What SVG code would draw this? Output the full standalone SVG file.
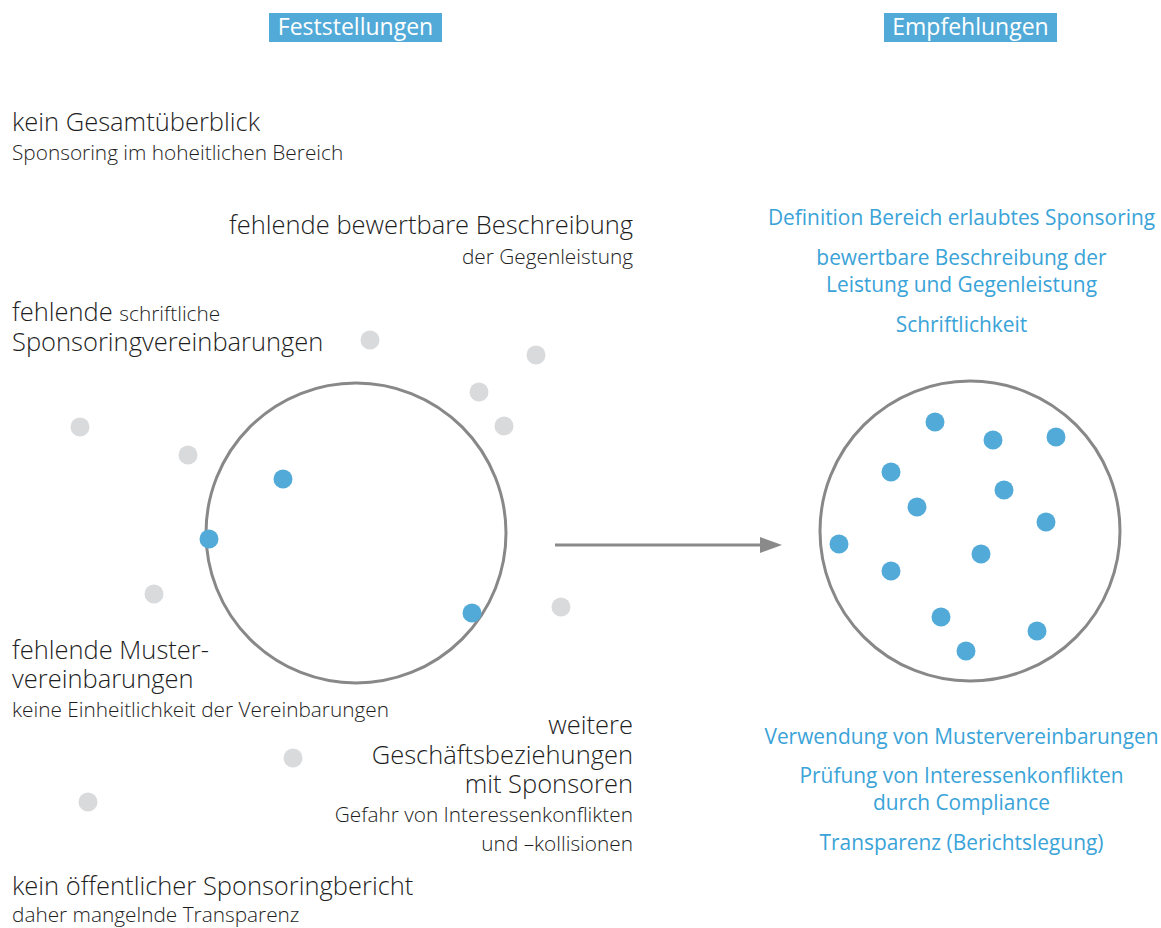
<svg xmlns="http://www.w3.org/2000/svg" width="1161" height="928" viewBox="0 0 1161 928">
  <style>
    text { font-family: "Open Sans", "Liberation Sans", sans-serif; }
    .hdr { fill: #ffffff; font-size: 23px; text-anchor: middle; }
    .big { fill: #1e1e1e; font-size: 25.5px; font-weight: 300; }
    .sub { fill: #1e1e1e; font-size: 20.8px; font-weight: 300; }
    .r { text-anchor: end; }
    .rec { fill: #3aa3d8; font-size: 20.9px; text-anchor: middle; }
    .ring { fill: none; stroke: #888888; stroke-width: 3; }
    .grey { fill: #d9dadc; }
    .blue { fill: #52aad8; }
    .conn { stroke: #8a8a8a; stroke-width: 3; fill: none; }
  </style>
  <rect width="1161" height="928" fill="#ffffff"/>

  <!-- column headers -->
  <g id="hdr-feststellungen">
    <rect x="269" y="13" width="173" height="29" fill="#52aad8"/>
    <text class="hdr" x="355.5" y="35">Feststellungen</text>
  </g>
  <g id="hdr-empfehlungen">
    <rect x="884" y="13" width="173" height="29" fill="#52aad8"/>
    <text class="hdr" x="970.5" y="35">Empfehlungen</text>
  </g>

  <!-- findings -->
  <g id="f-gesamtueberblick">
    <text class="big" x="12" y="131">kein Gesamtüberblick</text>
    <text class="sub" x="12" y="160">Sponsoring im hoheitlichen Bereich</text>
  </g>
  <g id="f-beschreibung">
    <text class="big r" x="633" y="234">fehlende bewertbare Beschreibung</text>
    <text class="sub r" x="633" y="264">der Gegenleistung</text>
  </g>
  <g id="f-schriftlich">
    <text class="big" x="12" y="321">fehlende <tspan class="sub">schriftliche</tspan></text>
    <text class="big" x="12" y="351">Sponsoringvereinbarungen</text>
  </g>
  <g id="f-muster">
    <text class="big" x="12" y="659">fehlende Muster-</text>
    <text class="big" x="12" y="688">vereinbarungen</text>
    <text class="sub" x="12" y="717">keine Einheitlichkeit der Vereinbarungen</text>
  </g>
  <g id="f-geschaeft">
    <text class="big r" x="633" y="734">weitere</text>
    <text class="big r" x="633" y="764">Geschäftsbeziehungen</text>
    <text class="big r" x="633" y="793">mit Sponsoren</text>
    <text class="sub r" x="633" y="822">Gefahr von Interessenkonflikten</text>
    <text class="sub r" x="633" y="851">und –kollisionen</text>
  </g>
  <g id="f-bericht">
    <text class="big" x="12" y="895">kein öffentlicher Sponsoringbericht</text>
    <text class="sub" x="12" y="922">daher mangelnde Transparenz</text>
  </g>

  <!-- recommendations -->
  <g id="e-oben">
    <text class="rec" x="961.5" y="225">Definition Bereich erlaubtes Sponsoring</text>
    <text class="rec" x="961.5" y="265">bewertbare Beschreibung der</text>
    <text class="rec" x="961.5" y="292">Leistung und Gegenleistung</text>
    <text class="rec" x="961.5" y="332">Schriftlichkeit</text>
  </g>
  <g id="e-unten">
    <text class="rec" x="961.5" y="744">Verwendung von Mustervereinbarungen</text>
    <text class="rec" x="961.5" y="783">Prüfung von Interessenkonflikten</text>
    <text class="rec" x="961.5" y="810">durch Compliance</text>
    <text class="rec" x="961.5" y="850">Transparenz (Berichtslegung)</text>
  </g>

  <!-- scattered points outside the current circle -->
  <g id="streupunkte">
    <circle class="grey" cx="370" cy="340" r="9.5"/>
    <circle class="grey" cx="536" cy="355" r="9.5"/>
    <circle class="grey" cx="479" cy="392" r="9.5"/>
    <circle class="grey" cx="504" cy="426" r="9.5"/>
    <circle class="grey" cx="80" cy="427" r="9.5"/>
    <circle class="grey" cx="188" cy="455" r="9.5"/>
    <circle class="grey" cx="154" cy="594" r="9.5"/>
    <circle class="grey" cx="561" cy="607" r="9.5"/>
    <circle class="grey" cx="293" cy="758" r="9.5"/>
    <circle class="grey" cx="88" cy="802" r="9.5"/>
  </g>

  <!-- current state -->
  <g id="kreis-ist">
    <circle class="ring" cx="356" cy="533" r="150"/>
    <circle class="blue" cx="283" cy="479" r="9.5"/>
    <circle class="blue" cx="209" cy="539" r="9.5"/>
    <circle class="blue" cx="472" cy="613" r="9.5"/>
  </g>

  <!-- target state -->
  <g id="kreis-soll">
    <circle class="ring" cx="970" cy="531" r="150"/>
    <circle class="blue" cx="935" cy="422" r="9.5"/>
    <circle class="blue" cx="993" cy="440" r="9.5"/>
    <circle class="blue" cx="1056" cy="437" r="9.5"/>
    <circle class="blue" cx="891" cy="472" r="9.5"/>
    <circle class="blue" cx="1004" cy="490" r="9.5"/>
    <circle class="blue" cx="917" cy="507" r="9.5"/>
    <circle class="blue" cx="1046" cy="522" r="9.5"/>
    <circle class="blue" cx="839" cy="544" r="9.5"/>
    <circle class="blue" cx="981" cy="554" r="9.5"/>
    <circle class="blue" cx="891" cy="571" r="9.5"/>
    <circle class="blue" cx="941" cy="617" r="9.5"/>
    <circle class="blue" cx="1037" cy="631" r="9.5"/>
    <circle class="blue" cx="966" cy="651" r="9.5"/>
  </g>

  <g id="connectors">
    <line class="conn" x1="555" y1="545" x2="760" y2="545"/>
    <path d="M760,537 L782,545 L760,553 Z" fill="#8a8a8a"/>
  </g>
</svg>
